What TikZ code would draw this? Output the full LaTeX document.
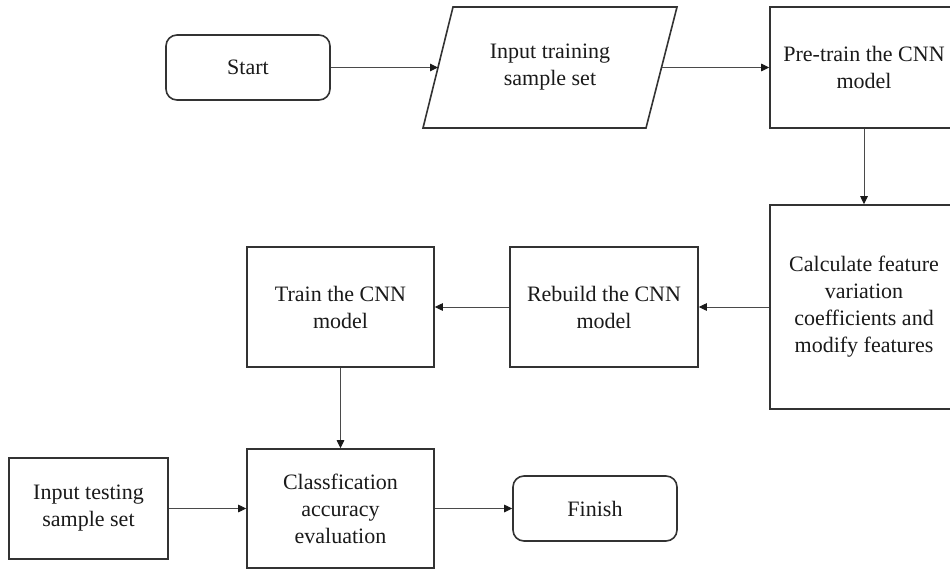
\documentclass[tikz,border=0pt]{standalone}
\usepackage{fontspec}
\setmainfont{Liberation Serif}
\usetikzlibrary{arrows.meta}

\definecolor{edge}{HTML}{333333}
\definecolor{wire}{HTML}{4A4A4A}
\definecolor{ink}{HTML}{1A1A1A}

\tikzset{
  box/.style={draw=edge, line width=1.6pt, fill=white, inner sep=0pt,
    text=ink, align=center, font=\fontsize{22}{27}\selectfont},
  term/.style={box, rounded corners=11pt},
  label/.style={inner sep=0pt, text=ink, align=center,
    font=\fontsize{22}{27}\selectfont},
  flow/.style={draw=wire, line width=1pt,
    -{Triangle[length=8pt,width=7.5pt,color=ink]}},
}

\begin{document}
\begin{tikzpicture}[x=1pt,y=-1pt]
  \useasboundingbox (0,0) rectangle (950,570);
  \clip (0,0) rectangle (950,570);

  % top row
  \node[term, minimum width=164pt, minimum height=65pt] (start) at (248,67.5) {Start};

  \draw[edge, line width=1.6pt, fill=white, line join=miter]
    (453,7) -- (677,7) -- (646,128) -- (423,128) -- cycle;
  \coordinate (inL) at (438,67.5);
  \coordinate (inR) at (661.5,67.5);
  \node[label] (intrain) at (550,67.5) {Input training\\sample set};

  \node[box, minimum width=188pt, minimum height=121pt] (pre) at (864,67.5)
    {Pre-train the CNN\\model};

  % right column
  \node[box, minimum width=188pt, minimum height=204pt] (calc) at (864,307)
    {Calculate feature\\variation\\coefficients and\\modify features};

  % middle row
  \node[box, minimum width=188pt, minimum height=120pt] (rebuild) at (604,307)
    {Rebuild the CNN\\model};
  \node[box, minimum width=187pt, minimum height=120pt] (train) at (340.5,307)
    {Train the CNN\\model};

  % bottom row
  \node[box, minimum width=187pt, minimum height=119pt] (class) at (340.5,508.5)
    {Classfication\\accuracy\\evaluation};
  \node[box, minimum width=159pt, minimum height=101pt] (test) at (88.5,508.5)
    {Input testing\\sample set};
  \node[term, minimum width=164pt, minimum height=65pt] (finish) at (595,508.5)
    {Finish};

  % connectors
  \draw[flow] (start.east) -- (inL);
  \draw[flow] (inR) -- (pre.west);
  \draw[flow] (pre.south) -- (calc.north);
  \draw[flow] (calc.west) -- (rebuild.east);
  \draw[flow] (rebuild.west) -- (train.east);
  \draw[flow] (train.south) -- (class.north);
  \draw[flow] (test.east) -- (class.west);
  \draw[flow] (class.east) -- (finish.west);
\end{tikzpicture}
\end{document}
